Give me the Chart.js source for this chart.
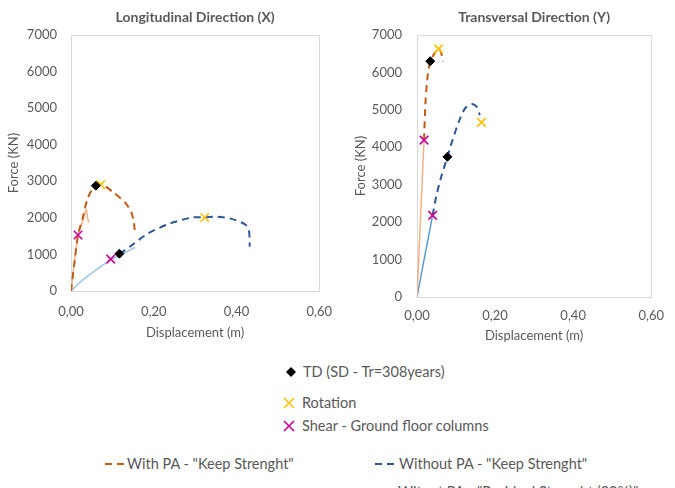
<!DOCTYPE html>
<html>
<head>
<meta charset="utf-8">
<script src="https://cdn.jsdelivr.net/npm/chart.js@4/dist/chart.umd.min.js"></script>
<style>
  html, body { margin: 0; padding: 0; background: #fff; overflow: hidden; }
  body { width: 675px; height: 488px; position: relative; font-family: Lato, "Open Sans", sans-serif; color: #595959; }
  .box { position: absolute; }
  .lg { position: absolute; font-size: 14.5px; line-height: 18px; white-space: nowrap; color: #595959; }
  svg { position: absolute; }
</style>
</head>
<body>
<div class="box" style="left:0;top:0;width:345px;height:345px"><canvas id="longChart"></canvas></div>
<div class="box" style="left:340px;top:0;width:335px;height:348px"><canvas id="transChart"></canvas></div>

<!-- legend -->
<svg style="left:286px;top:367px" width="10" height="10"><polygon points="5,0 10,5 5,10 0,5" fill="#000"/></svg>
<div class="lg" style="left:303px;top:363px">TD (SD - Tr=308years)</div>
<svg style="left:283px;top:397px" width="12" height="12"><path d="M1,1 L11,11 M11,1 L1,11" stroke="#FFC000" stroke-width="1.6"/></svg>
<div class="lg" style="left:302px;top:394px">Rotation</div>
<svg style="left:283px;top:420px" width="12" height="12"><path d="M1,1 L11,11 M11,1 L1,11" stroke="#CC0099" stroke-width="1.6"/></svg>
<div class="lg" style="left:302px;top:417px">Shear - Ground floor columns</div>
<svg style="left:104px;top:461px" width="24" height="6"><line x1="1" y1="3" x2="23" y2="3" stroke="#C55A11" stroke-width="2" stroke-dasharray="7,5"/></svg>
<div class="lg" style="left:127px;top:455px">With PA - "Keep Strenght"</div>
<svg style="left:374px;top:461px" width="24" height="6"><line x1="1" y1="3" x2="23" y2="3" stroke="#2F5597" stroke-width="2" stroke-dasharray="7,5"/></svg>
<div class="lg" style="left:399px;top:455px">Without PA - "Keep Strenght"</div>
<div class="lg" style="left:398px;top:483px">Witout PA - "Residual Strenght (20%)"</div>

<script>
// axis ticks
const xTickLabels = ['0,00', '0,20', '0,40', '0,60'];
const yTicks = [0, 1000, 2000, 3000, 4000, 5000, 6000, 7000];

// Longitudinal direction (X)
const lWithKeepX = [0, 0.008, 0.017, 0.028, 0.039, 0.05, 0.06, 0.077, 0.104, 0.13, 0.146, 0.152, 0.154];
const lWithKeepY = [0, 750, 1530, 1990, 2490, 2760, 2870, 2900, 2680, 2430, 2150, 1870, 1670];
const lWithResX = [0, 0.017, 0.028, 0.034, 0.037, 0.040, 0.043];
const lWithResY = [0, 1530, 1900, 2150, 2220, 2000, 1870];
const lWithoutKeepX = [0.117, 0.142, 0.187, 0.24, 0.293, 0.326, 0.354, 0.384, 0.42, 0.43, 0.432];
const lWithoutKeepY = [1010, 1210, 1580, 1850, 2010, 2020, 2030, 1985, 1830, 1670, 1210];
const lWithoutResX = [0, 0.028, 0.066, 0.096, 0.127, 0.155];
const lWithoutResY = [0, 300, 620, 850, 1030, 1190];
const lTdX = [0.06, 0.117];
const lTdY = [2880, 1020];
const lRotX = [0.072, 0.323];
const lRotY = [2910, 2010];
const lShearX = [0.017, 0.096];
const lShearY = [1530, 870];

// Transversal direction (Y)
const tWithKeepX = [0.018, 0.022, 0.028, 0.034, 0.045, 0.055, 0.061, 0.067];
const tWithKeepY = [4190, 5260, 5980, 6290, 6510, 6640, 6550, 6290];
const tWithResX = [0, 0.018];
const tWithResY = [0, 4190];
const tWithoutKeepX = [0.04, 0.049, 0.062, 0.078, 0.091, 0.107, 0.123, 0.14, 0.153, 0.161];
const tWithoutKeepY = [2180, 2680, 3210, 3745, 4190, 4680, 5040, 5155, 5080, 4860];
const tWithoutResX = [0, 0.02, 0.04];
const tWithoutResY = [0, 1100, 2180];
const tTdX = [0.034, 0.078];
const tTdY = [6300, 3745];
const tRotX = [0.055, 0.165];
const tRotY = [6630, 4665];
const tShearX = [0.018, 0.04];
const tShearY = [4190, 2180];

const pts = (xs, ys) => xs.map((x, i) => ({x: x, y: ys[i]}));
const FONT = 'Lato';

// light frame round the plot area
const framePlugin = {
    id: 'frame',
    beforeDatasetsDraw(chart) {
        const a = chart.chartArea;
        const ctx = chart.ctx;
        ctx.save();
        ctx.strokeStyle = '#D9D9D9';
        ctx.lineWidth = 1;
        ctx.strokeRect(Math.round(a.left) + 0.5, Math.round(a.top) + 0.5, Math.round(a.right - a.left), Math.round(a.bottom - a.top));
        ctx.restore();
    }
};

function makeChart(id, title, d, geo) {
    const lineDs = (data, color, dashed, width) => ({
        data: data, showLine: true, pointRadius: 0, borderColor: color,
        borderWidth: width, borderDash: dashed ? [7, 5] : [], tension: 0.25, fill: false
    });
    const markDs = (data, style, color, r) => ({
        data: data, showLine: false, pointStyle: style, pointRadius: r,
        pointBackgroundColor: color, pointBorderColor: color, pointBorderWidth: style === 'rectRot' ? 1 : 1.6
    });
    return new Chart(document.getElementById(id), {
        type: 'scatter',
        data: {
            datasets: [
                markDs(d.td, 'rectRot', '#000000', 4.5),
                markDs(d.rot, 'crossRot', '#FFC000', 6),
                markDs(d.shear, 'crossRot', '#CC0099', 6),
                lineDs(d.withKeep, '#C55A11', true, 2),
                lineDs(d.withoutKeep, '#2F5597', true, 2),
                lineDs(d.withRes, '#F4B183', false, 1.5),
                lineDs(d.withoutRes, geo.resBlue, false, 1.5)
            ]
        },
        plugins: [framePlugin],
        options: {
            responsive: true,
            maintainAspectRatio: false,
            animation: false,
            layout: { padding: { left: 0, right: geo.padRight, top: 0, bottom: 0 } },
            plugins: {
                legend: { display: false },
                tooltip: { enabled: false }
            },
            scales: {
                // empty top axis only carries the chart title, centred on the plot area
                top: {
                    type: 'linear', position: 'top', min: 0, max: 0.6,
                    grid: { display: false, drawTicks: false },
                    border: { display: false },
                    ticks: { display: false },
                    afterFit: s => { s.height = 35; },
                    title: {
                        display: true, text: title, color: '#595959',
                        font: { family: FONT, size: 14, weight: 'bold' },
                        padding: { top: 8.6, bottom: 0 }
                    }
                },
                x: {
                    type: 'linear', min: 0, max: 0.6,
                    grid: { display: false, drawTicks: false },
                    border: { display: false },
                    afterFit: s => { s.height = geo.xHeight; },
                    afterBuildTicks: s => { s.ticks = xTickLabels.map((t, i) => ({value: i * 0.2})); },
                    ticks: {
                        padding: geo.xPad, color: '#595959', font: { family: FONT, size: 13 },
                        callback: (v, i) => xTickLabels[i]
                    },
                    title: {
                        display: true, text: 'Displacement (m)', color: '#595959',
                        font: { family: FONT, size: 13 }, padding: { top: 0, bottom: 4 }
                    }
                },
                y: {
                    type: 'linear', min: 0, max: 7000,
                    grid: { display: false, drawTicks: false },
                    border: { display: false },
                    afterFit: s => { s.width = geo.yWidth; },
                    afterBuildTicks: s => { s.ticks = yTicks.map(v => ({value: v})); },
                    ticks: {
                        padding: geo.yPad, color: '#595959', font: { family: FONT, size: 13 },
                        callback: v => String(v)
                    },
                    title: {
                        display: true, text: 'Force (KN)', color: '#595959',
                        font: { family: FONT, size: 13 }, padding: { top: geo.yTitlePad, bottom: 0 }
                    }
                }
            }
        }
    });
}

makeChart('longChart', 'Longitudinal Direction (X)', {
    withKeep: pts(lWithKeepX, lWithKeepY),
    withRes: pts(lWithResX, lWithResY),
    withoutKeep: pts(lWithoutKeepX, lWithoutKeepY),
    withoutRes: pts(lWithoutResX, lWithoutResY),
    td: pts(lTdX, lTdY), rot: pts(lRotX, lRotY), shear: pts(lShearX, lShearY)
}, { padRight: 12, xHeight: 54, xPad: 13, yWidth: 71, yPad: 14, yTitlePad: 6, resBlue: '#9DC3E6' });

makeChart('transChart', 'Transversal Direction (Y)', {
    withKeep: pts(tWithKeepX, tWithKeepY),
    withRes: pts(tWithResX, tWithResY),
    withoutKeep: pts(tWithoutKeepX, tWithoutKeepY),
    withoutRes: pts(tWithoutResX, tWithoutResY),
    td: pts(tTdX, tTdY), rot: pts(tRotX, tRotY), shear: pts(tShearX, tShearY)
}, { padRight: 14, xHeight: 51, xPad: 11, yWidth: 77, yPad: 15, yTitlePad: 13, resBlue: '#5B9BD5' });
</script>
</body>
</html>
